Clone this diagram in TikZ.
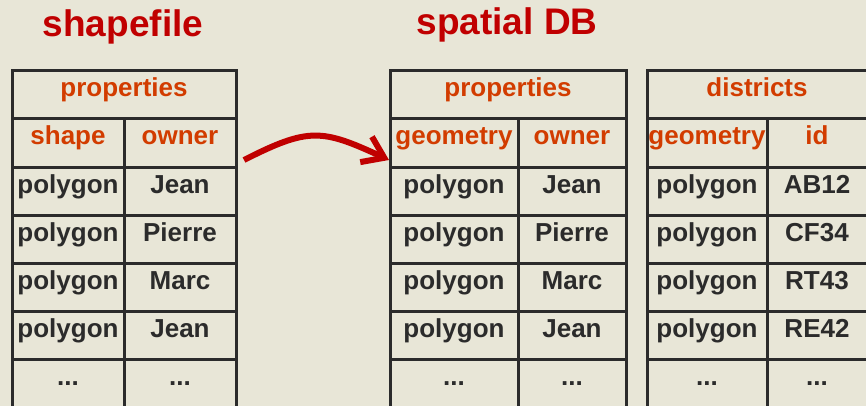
\documentclass[tikz,border=0pt]{standalone}
\usepackage{fontspec}
\setmainfont{Liberation Sans}
\usetikzlibrary{arrows.meta}
\definecolor{paper}{RGB}{232,230,215}
\definecolor{titlered}{RGB}{192,0,0}
\definecolor{headred}{RGB}{210,60,0}
\definecolor{ink}{RGB}{43,43,43}

\begin{document}
\begin{tikzpicture} [x = 1pt, y = -1pt,
  grid/.style = {ink, line width = 3pt},
  title/.style = {titlered, font = \fontsize{37}{40}\selectfont\bfseries, anchor = base, inner sep = 0pt},
  head/.style = {headred, font = \fontsize{26}{28}\selectfont\bfseries, anchor = base, inner sep = 0pt},
  cell/.style = {ink, font = \fontsize{26}{28}\selectfont\bfseries, anchor = base, inner sep = 0pt}]
\fill[paper] (0, 0) rectangle (866, 406);
\useasboundingbox (0, 0) rectangle (866, 406);
\clip (0, 0) rectangle (866, 406);
% shapefile table
\draw[grid] (12, 71) rectangle (236, 430);
\draw[grid] (12, 119) -- (236, 119);
\draw[grid] (12, 167) -- (236, 167);
\draw[grid] (12, 215) -- (236, 215);
\draw[grid] (12, 263) -- (236, 263);
\draw[grid] (12, 311) -- (236, 311);
\draw[grid] (12, 359) -- (236, 359);
\draw[grid] (124, 119) -- (124, 430);
% properties table
\draw[grid] (390, 71) rectangle (626, 430);
\draw[grid] (390, 119) -- (626, 119);
\draw[grid] (390, 167) -- (626, 167);
\draw[grid] (390, 215) -- (626, 215);
\draw[grid] (390, 263) -- (626, 263);
\draw[grid] (390, 311) -- (626, 311);
\draw[grid] (390, 359) -- (626, 359);
\draw[grid] (518, 119) -- (518, 430);
% districts table
\draw[grid] (647, 71) rectangle (868, 430);
\draw[grid] (647, 119) -- (868, 119);
\draw[grid] (647, 167) -- (868, 167);
\draw[grid] (647, 215) -- (868, 215);
\draw[grid] (647, 263) -- (868, 263);
\draw[grid] (647, 311) -- (868, 311);
\draw[grid] (647, 359) -- (868, 359);
\draw[grid] (767, 119) -- (767, 430);
% titles
\node[title] (shapefile) at (123, 37){shapefile};
\node[title] (spatialdb) at (507, 35){spatial DB};
% shapefile cells
\node[head] (sfprops) at (124, 97){properties};
\node[head] (sfshape) at (68, 145){shape};
\node[head] (sfowner) at (180, 145){owner};
\node[cell] (sfgeomA) at (68, 193){polygon};
\node[cell] (sfownerA) at (180, 193){Jean};
\node[cell] (sfgeomB) at (68, 241){polygon};
\node[cell] (sfownerB) at (180, 241){Pierre};
\node[cell] (sfgeomC) at (68, 289){polygon};
\node[cell] (sfownerC) at (180, 289){Marc};
\node[cell] (sfgeomD) at (68, 337){polygon};
\node[cell] (sfownerD) at (180, 337){Jean};
\node[cell] (sfgeomE) at (68, 385){...};
\node[cell] (sfownerE) at (180, 385){...};
% properties cells
\node[head] (dbprops) at (508, 97){properties};
\node[head] (dbgeom) at (454, 145){geometry};
\node[head] (dbowner) at (572, 145){owner};
\node[cell] (dbgeomA) at (454, 193){polygon};
\node[cell] (dbownerA) at (572, 193){Jean};
\node[cell] (dbgeomB) at (454, 241){polygon};
\node[cell] (dbownerB) at (572, 241){Pierre};
\node[cell] (dbgeomC) at (454, 289){polygon};
\node[cell] (dbownerC) at (572, 289){Marc};
\node[cell] (dbgeomD) at (454, 337){polygon};
\node[cell] (dbownerD) at (572, 337){Jean};
\node[cell] (dbgeomE) at (454, 385){...};
\node[cell] (dbownerE) at (572, 385){...};
% districts cells
\node[head] (districts) at (757, 97){districts};
\node[head] (dsgeom) at (707, 145){geometry};
\node[head] (dsid) at (817, 145){id};
\node[cell] (dsgeomA) at (707, 193){polygon};
\node[cell] (dsidA) at (817, 193){AB12};
\node[cell] (dsgeomB) at (707, 241){polygon};
\node[cell] (dsidB) at (817, 241){CF34};
\node[cell] (dsgeomC) at (707, 289){polygon};
\node[cell] (dsidC) at (817, 289){RT43};
\node[cell] (dsgeomD) at (707, 337){polygon};
\node[cell] (dsidD) at (817, 337){RE42};
\node[cell] (dsgeomE) at (707, 385){...};
\node[cell] (dsidE) at (817, 385){...};
% import arrow
\coordinate (importfrom) at (244, 160);
\coordinate (importto) at (389, 160);
\draw[titlered, line width = 6pt, -{Straight Barb[length = 20pt, width = 28pt]}] (importfrom) .. controls (309, 127) and (322, 129) .. (importto);
\end{tikzpicture}
\end{document}
